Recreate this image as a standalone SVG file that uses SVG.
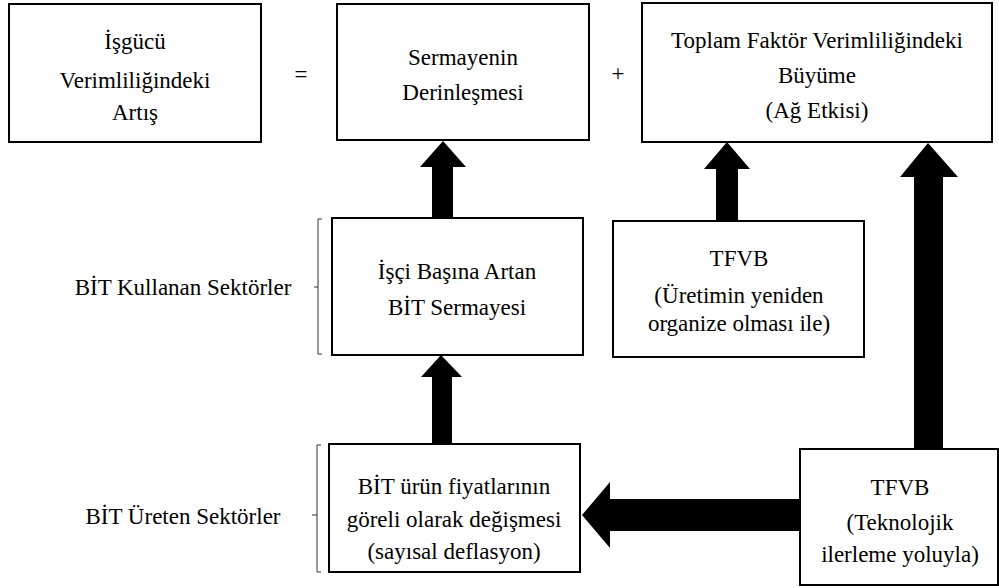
<svg xmlns="http://www.w3.org/2000/svg" width="999" height="588" viewBox="0 0 999 588" font-family="Liberation Serif, DejaVu Serif, serif" font-size="23">
<style>
.box{fill:#fff;stroke:#000;stroke-width:2}
.t{fill:#000;text-anchor:middle}
.br{fill:none;stroke:#333;stroke-width:1}
.ar{fill:#000;stroke:none}
</style>
<rect width="999" height="588" fill="#fff"/>
<g id="n1"><rect class="box" x="9" y="4" width="252" height="138"/>
<text class="t" x="135" y="49" font-family="Liberation Serif, serif">İşgücü</text><text class="t" x="135" y="88" font-family="Liberation Serif, serif">Verimliliğindeki</text><text class="t" x="135" y="120" font-family="Liberation Serif, serif">Artış</text></g>
<text class="t" x="301" y="82" font-family="Liberation Serif, serif">=</text>
<g id="n2"><rect class="box" x="337" y="4" width="252" height="136"/>
<text class="t" x="463" y="65" font-family="Liberation Serif, serif">Sermayenin</text><text class="t" x="463" y="100" font-family="Liberation Serif, serif">Derinleşmesi</text></g>
<text class="t" x="618" y="81" font-family="Liberation Serif, serif">+</text>
<g id="n3"><rect class="box" x="642" y="3" width="350" height="139"/>
<text class="t" x="817" y="48" font-family="Liberation Serif, serif">Toplam Faktör Verimliliğindeki</text><text class="t" x="817" y="83" font-family="Liberation Serif, serif">Büyüme</text><text class="t" x="817" y="118" font-family="Liberation Serif, serif">(Ağ Etkisi)</text></g>
<g id="n4"><rect class="box" x="332" y="218" width="251" height="137"/>
<text class="t" x="457" y="279" font-family="Liberation Serif, serif">İşçi Başına Artan</text><text class="t" x="457" y="315" font-family="Liberation Serif, serif">BİT Sermayesi</text></g>
<g id="n5"><rect class="box" x="613" y="221" width="251" height="136"/>
<text class="t" x="739" y="266" font-family="Liberation Serif, serif">TFVB</text><text class="t" x="739" y="303" font-family="Liberation Serif, serif">(Üretimin yeniden</text><text class="t" x="739" y="331" font-family="Liberation Serif, serif">organize olması ile)</text></g>
<g id="n6"><rect class="box" x="329" y="444" width="251" height="128"/>
<text class="t" x="454" y="494" font-family="Liberation Serif, serif">BİT ürün fiyatlarının</text><text class="t" x="454" y="527" font-family="Liberation Serif, serif">göreli olarak değişmesi</text><text class="t" x="454" y="559" font-family="Liberation Serif, serif">(sayısal deflasyon)</text></g>
<g id="n7"><rect class="box" x="800" y="449" width="198" height="136"/>
<text class="t" x="900" y="495" font-family="Liberation Serif, serif">TFVB</text><text class="t" x="900" y="530" font-family="Liberation Serif, serif">(Teknolojik</text><text class="t" x="900" y="562" font-family="Liberation Serif, serif">ilerleme yoluyla)</text></g>
<g id="labels">
<text class="t" x="183" y="295" font-family="Liberation Serif, serif">BİT Kullanan Sektörler</text>
<text class="t" x="183" y="524" font-family="Liberation Serif, serif">BİT Üreten Sektörler</text>
<path class="br" d="M322,219 H318 V354 H322 M318,287 H314"/>
<path class="br" d="M321,445 H317 V572 H321 M317,515 H312"/>
</g>
<g id="connectors">
<polygon class="ar" points="443,141 466,167 453,167 453,218 432,218 432,167 420,167"/>
<polygon class="ar" points="727,142 750,169 738,169 738,221 716,221 716,169 704,169"/>
<polygon class="ar" points="928,143 958,177 943,177 943,449 914,449 914,177 900,177"/>
<polygon class="ar" points="441,355 462,377 452,377 452,444 432,444 432,377 421,377"/>
<polygon class="ar" points="582,515 610,482 610,499 800,499 800,531 610,531 610,548"/>
</g>
</svg>
